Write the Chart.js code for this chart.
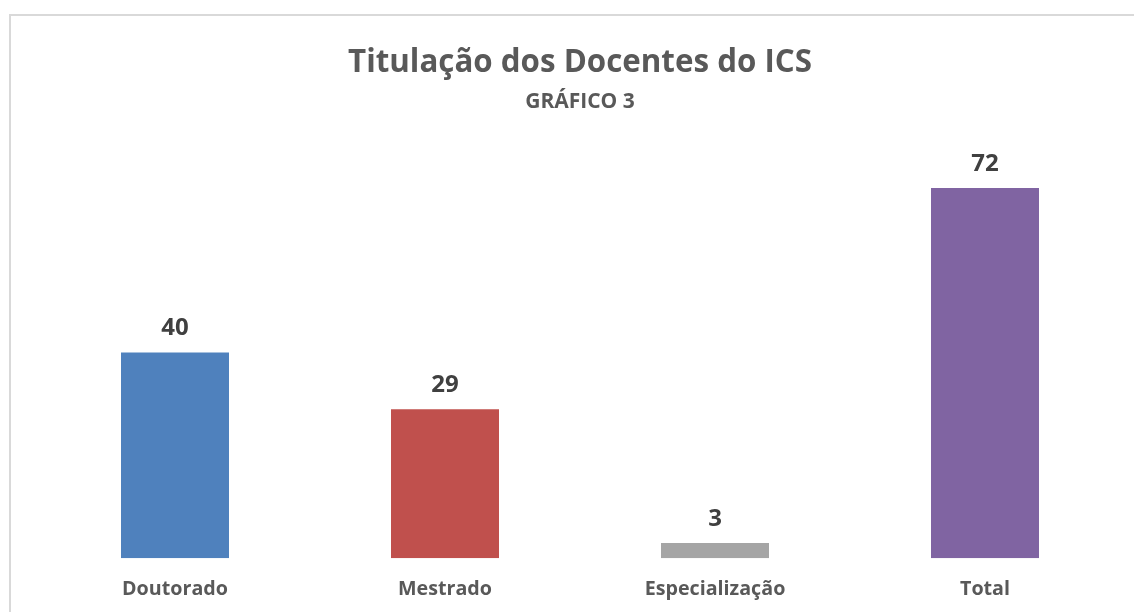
<!DOCTYPE html>
<html>
<head>
<meta charset="utf-8">
<script src="https://cdn.jsdelivr.net/npm/chart.js@4/dist/chart.umd.min.js"></script>
<style>
    html, body { margin: 0; padding: 0; background: #ffffff; overflow: hidden; }
    #moldura {
        position: absolute; left: 9px; top: 14px;
        width: 1200px; height: 700px;
        border: 2px solid #d9d9d9;
    }
    #caixa { position: absolute; left: 0; top: 0; width: 1134px; height: 612px; }
</style>
</head>
<body>
<div id="moldura"></div>
<div id="caixa"><canvas id="chartTitulacao"></canvas></div>
<script>
// dados
const categorias = ["Doutorado", "Mestrado", "Especialização", "Total"];
const docentes = [40, 29, 3, 72];
const coresBarras = ["#4f81bd", "#c0504d", "#a5a5a5", "#8064a2"];

const fonte = "'Open Sans', 'Noto Sans', sans-serif";

// escreve o valor acima de cada barra
const rotulosValores = {
    id: "rotulosValores",
    afterDatasetsDraw(chart) {
        const ctx = chart.ctx;
        const meta = chart.getDatasetMeta(0);
        ctx.save();
        ctx.font = "bold 24px " + fonte;
        ctx.fillStyle = "#404040";
        ctx.textAlign = "center";
        ctx.textBaseline = "middle";
        meta.data.forEach((barra, i) => {
            ctx.fillText(String(docentes[i]), barra.x, barra.y - 24);
        });
        ctx.restore();
    }
};

const ctx = document.getElementById("chartTitulacao");

new Chart(ctx, {
    type: "bar",
    data: {
        labels: categorias,
        datasets: [{
            label: "Docentes",
            data: docentes,
            backgroundColor: coresBarras,
            borderWidth: 0,
            barPercentage: 0.4,
            categoryPercentage: 1
        }]
    },
    options: {
        responsive: true,
        maintainAspectRatio: false,
        animation: false,
        layout: {
            padding: { left: 40, right: 14, top: 0, bottom: -8 }
        },
        plugins: {
            legend: { display: false },
            tooltip: { enabled: false },
            title: {
                display: true,
                text: "Titulação dos Docentes do ICS",
                color: "#595959",
                font: { family: fonte, size: 31.3, weight: "bold" },
                padding: { top: 44, bottom: 4 }
            },
            subtitle: {
                display: true,
                text: "GRÁFICO 3",
                color: "#595959",
                font: { family: fonte, size: 21, weight: "bold" },
                padding: { top: 4, bottom: 32 }
            }
        },
        scales: {
            x: {
                grid: { display: false, drawTicks: false },
                border: { display: false },
                ticks: {
                    color: "#595959",
                    padding: 19,
                    font: { family: fonte, size: 19.7, weight: "bold" }
                }
            },
            y: {
                display: false,
                min: 0,
                max: 80
            }
        }
    },
    plugins: [rotulosValores]
});
</script>
</body>
</html>
